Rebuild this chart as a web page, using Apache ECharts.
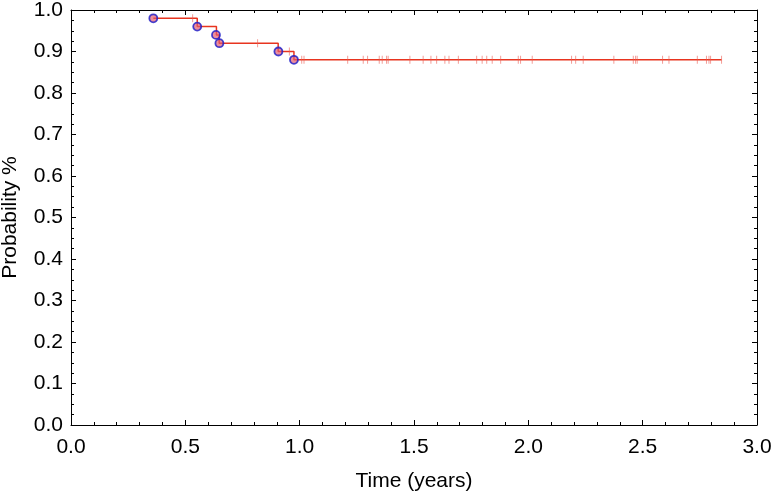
<!DOCTYPE html>
<html>
<head>
<meta charset="utf-8">
<script src="https://cdn.jsdelivr.net/npm/echarts@6/dist/echarts.min.js"></script>
<style>
html,body{margin:0;padding:0;background:#fff;}
#chart{width:773px;height:494px;}
</style>
</head>
<body>
<div id="chart"></div>
<script>
// Kaplan-Meier step curve: times where the survival value changes, and the value after
const stepTimes = [0.36, 0.552, 0.636, 0.648, 0.906, 0.975, 2.845];
const stepValues = [0.98, 0.96, 0.94, 0.92, 0.90, 0.88, 0.88];
// events (blue circles)
const eventTimes = [0.36, 0.552, 0.634, 0.649, 0.907, 0.975];
const eventValues = [0.98, 0.96, 0.94, 0.92, 0.90, 0.88];
// censored observations (tick marks)
const censorTimes = [0.532, 0.816, 0.955, 1.009, 1.019, 1.210, 1.278, 1.297, 1.348, 1.361, 1.380, 1.387,
  1.482, 1.540, 1.574, 1.599, 1.635, 1.653, 1.694, 1.774, 1.798, 1.818, 1.842, 1.879, 1.956, 1.966,
  2.017, 2.189, 2.207, 2.240, 2.374, 2.459, 2.469, 2.476, 2.587, 2.615, 2.739, 2.779, 2.790, 2.797, 2.845];
const censorValues = [0.98, 0.92, 0.90, 0.88, 0.88, 0.88, 0.88, 0.88, 0.88, 0.88, 0.88, 0.88,
  0.88, 0.88, 0.88, 0.88, 0.88, 0.88, 0.88, 0.88, 0.88, 0.88, 0.88, 0.88, 0.88, 0.88,
  0.88, 0.88, 0.88, 0.88, 0.88, 0.88, 0.88, 0.88, 0.88, 0.88, 0.88, 0.88, 0.88, 0.88, 0.88];
const xTitle = 'Time (years)';
const yTitle = 'Probability %';

const font = 'Liberation Sans, Arial, sans-serif';
const chart = echarts.init(document.getElementById('chart'));
const axisCommon = {
  axisLine: {show: true, onZero: false, lineStyle: {color: '#000', width: 1}},
  axisTick: {show: true, inside: true, length: 5, lineStyle: {color: '#000'}},
  splitLine: {show: false}
};
chart.setOption({
  animation: false,
  grid: {left: 71, top: 10, right: 16, bottom: 69, containLabel: false, outerBoundsMode: 'none'},
  xAxis: [
    Object.assign({
      type: 'value', min: 0, max: 3, interval: 0.5, position: 'bottom',
      name: xTitle, nameLocation: 'middle', nameGap: 46,
      nameTextStyle: {fontFamily: font, fontSize: 21, color: '#000'},
      axisLabel: {fontFamily: font, fontSize: 21, color: '#000', margin: 12, formatter: v => v.toFixed(1)}
    }, axisCommon, {minorTick: {show: true, splitNumber: 5, length: 3, lineStyle: {color: '#000'}}}),
    Object.assign({
      type: 'value', min: 0, max: 3, interval: 0.5, position: 'top',
      axisLabel: {show: false}
    }, axisCommon, {minorTick: {show: true, splitNumber: 5, length: 3, lineStyle: {color: '#000'}}})
  ],
  yAxis: [
    Object.assign({
      type: 'value', min: 0, max: 1, interval: 0.1, position: 'left',
      name: yTitle, nameLocation: 'middle', nameGap: 50,
      nameTextStyle: {fontFamily: font, fontSize: 21, color: '#000'},
      axisLabel: {fontFamily: font, fontSize: 21, color: '#000', margin: 8, formatter: v => v.toFixed(1)}
    }, axisCommon, {minorTick: {show: true, splitNumber: 4, length: 3, lineStyle: {color: '#000'}}}),
    Object.assign({
      type: 'value', min: 0, max: 1, interval: 0.1, position: 'right',
      axisLabel: {show: false}
    }, axisCommon, {minorTick: {show: true, splitNumber: 4, length: 3, lineStyle: {color: '#000'}}})
  ],
  series: [
    {
      type: 'line', step: 'end', showSymbol: false, symbol: 'none',
      data: stepTimes.map((t, i) => [t, stepValues[i]]),
      lineStyle: {color: '#e8341f', width: 1.5}, z: 2
    },
    {
      type: 'scatter', symbol: 'rect', symbolSize: [1, 8],
      data: censorTimes.map((t, i) => [t, censorValues[i]]),
      itemStyle: {color: 'rgba(235,90,80,0.75)'}, z: 3
    },
    {
      type: 'scatter', symbol: 'circle', symbolSize: 8,
      data: eventTimes.map((t, i) => [t, eventValues[i]]),
      itemStyle: {color: 'rgba(225,90,110,0.85)', borderColor: '#1a1ac8', borderWidth: 1.8}, z: 4
    }
  ]
});
</script>
</body>
</html>
